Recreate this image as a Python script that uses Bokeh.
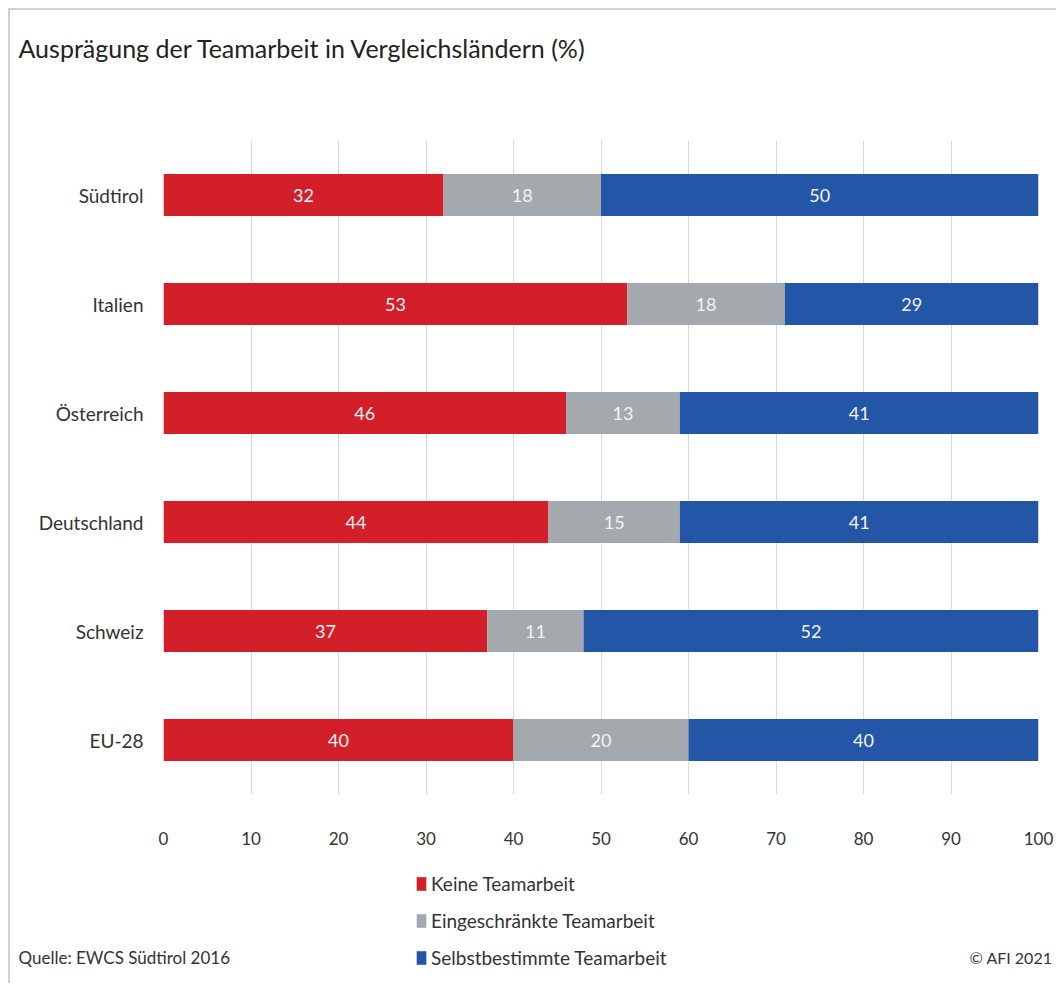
from bokeh.plotting import figure
from bokeh.layouts import column
from bokeh.models import ColumnDataSource, Label, Legend, LegendItem
from bokeh.core.properties import value
from bokeh.embed import file_html
from bokeh.resources import INLINE

categories = ["Südtirol", "Italien", "Österreich", "Deutschland", "Schweiz", "EU-28"]
keine = [32, 53, 46, 44, 37, 40]
eingeschraenkt = [18, 18, 13, 15, 11, 20]
selbstbestimmt = [50, 29, 41, 41, 52, 40]
series_names = ["Keine Teamarbeit", "Eingeschränkte Teamarbeit", "Selbstbestimmte Teamarbeit"]
x_ticks = [0, 10, 20, 30, 40, 50, 60, 70, 80, 90, 100]
title_text = "Ausprägung der Teamarbeit in Vergleichsländern (%)"
source_text = "Quelle: EWCS Südtirol 2016"
copyright_text = "© AFI 2021"

colors = ["#d21f29", "#a4a9ae", "#2456a8"]
FONT = "Lato"
TXT = "#333333"

W = 1046
H_HEAD, H_MAIN, H_FOOT = 130, 716, 127


def blank(h):
    f = figure(width=W, height=h, x_range=(0, W), y_range=(0, h),
               output_backend="svg", toolbar_location=None,
               x_axis_location=None, y_axis_location=None,
               min_border_left=0, min_border_right=0, min_border_top=0, min_border_bottom=0)
    f.frame_align = False
    f.outline_line_color = None
    f.xgrid.grid_line_color = None
    f.ygrid.grid_line_color = None
    return f


# ---- header with title
head = blank(H_HEAD)
head.add_layout(Label(x=8, y=H_HEAD - 37, text=title_text, text_font=FONT,
                      text_font_size="25px", text_color="#222222",
                      text_baseline="middle", text_align="left"))

# ---- main chart
p = figure(width=W, height=H_MAIN, y_range=list(reversed(categories)), x_range=(0, 100),
           output_backend="svg", toolbar_location=None,
           min_border_left=153, min_border_right=18, min_border_top=0, min_border_bottom=62)
p.frame_align = False
p.outline_line_color = None
p.ygrid.grid_line_color = None
p.xgrid.grid_line_color = "#d9d9d9"
p.xgrid.grid_line_width = 1
p.xaxis.ticker = x_ticks

for ax in (p.xaxis[0], p.yaxis[0]):
    ax.axis_line_color = None
    ax.major_tick_line_color = None
    ax.minor_tick_line_color = None
    ax.major_label_text_font = FONT
    ax.major_label_text_font_size = "17px"
    ax.major_label_text_color = TXT
p.yaxis.major_label_text_font_size = "19px"
p.yaxis.major_label_standoff = 14
p.xaxis.major_label_standoff = 31

src = ColumnDataSource(dict(cat=categories, k=keine, e=eingeschraenkt, s=selbstbestimmt))
p.hbar_stack(["k", "e", "s"], y="cat", height=0.385, color=colors, source=src, line_color=None)

lab_x, lab_y, lab_t = [], [], []
for i, c in enumerate(categories):
    start = 0
    for v in (keine[i], eingeschraenkt[i], selbstbestimmt[i]):
        lab_x.append(start + v / 2)
        lab_y.append(c)
        lab_t.append(str(v))
        start += v
p.text(x=lab_x, y=lab_y, text=lab_t, text_align="center", text_baseline="middle",
       text_color="#f3f3f3", text_font=value(FONT), text_font_size="18px")

# ---- footer with legend and source
foot = blank(H_FOOT)
proxies = []
for c in colors:
    # legend proxies, placed outside the visible range
    proxies.append(foot.hbar(y=[-1000], left=[0], right=[1], height=1, color=c, line_color=None))
legend = Legend(items=[LegendItem(label=n, renderers=[r]) for n, r in zip(series_names, proxies)],
                location=(405, 14), orientation="vertical",
                glyph_width=12, glyph_height=17, label_height=22, label_standoff=4, spacing=14,
                label_text_font=FONT, label_text_font_size="19px", label_text_color=TXT,
                padding=0, margin=0, border_line_color=None, background_fill_alpha=0)
foot.add_layout(legend, "center")
foot.add_layout(Label(x=8, y=26, text=source_text, text_font=FONT, text_font_size="17px",
                      text_color=TXT, text_baseline="middle", text_align="left"))
foot.add_layout(Label(x=W - 4, y=26, text=copyright_text, text_font=FONT, text_font_size="16px",
                      text_color=TXT, text_baseline="middle", text_align="right"))

layout = column(head, p, foot, spacing=0,
                styles={"margin-left": "8px", "margin-top": "8px",
                        "border-left": "2px solid #d0d0d0", "border-top": "2px solid #d0d0d0"})

open("out.html", "w").write(file_html(layout, INLINE))
